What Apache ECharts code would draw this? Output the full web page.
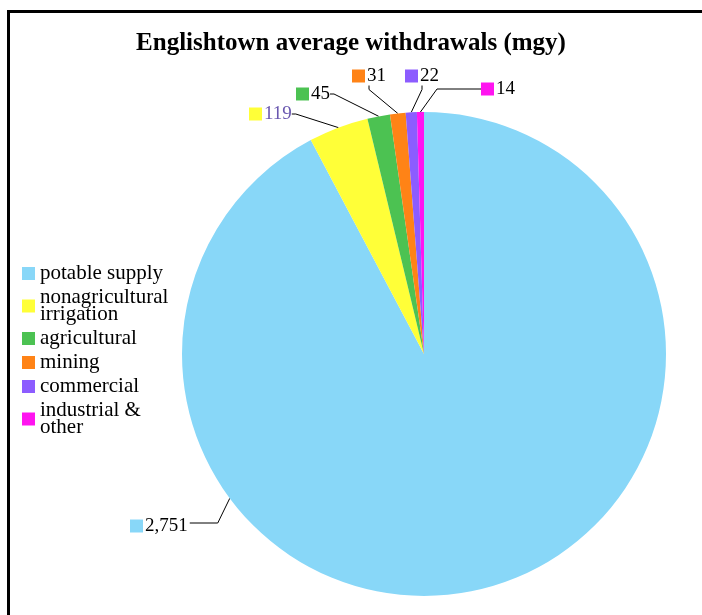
<!DOCTYPE html>
<html>
<head>
<meta charset="utf-8">
<script src="https://cdn.jsdelivr.net/npm/echarts@6/dist/echarts.min.js"></script>
<style>
  html, body { margin: 0; padding: 0; background: #fff; }
  #main { position: absolute; left: 0; top: 0; width: 702px; height: 615px; }
  #frame { position: absolute; left: 7px; top: 10px; width: 700px; height: 610px;
    border-top: 3px solid #000; border-left: 3px solid #000; pointer-events: none; }
</style>
</head>
<body>
<div id="main"></div>
<div id="frame"></div>
<script>
// withdrawals by use, million gallons per year
var categories = ['potable supply', 'nonagricultural irrigation', 'agricultural', 'mining', 'commercial', 'industrial & other']
var values = [2751, 119, 45, 31, 22, 14]
var legendNames = {
  'nonagricultural irrigation': 'nonagricultural\nirrigation',
  'industrial & other': 'industrial &\nother'
}

var colors = ['#88d7f8', '#ffff38', '#4cc252', '#ff8316', '#8c5cff', '#ff14f0']
// label placement (left of swatch, vertical middle) like the original sheet
var labelPos = [[130, 526], [249, 114], [296, 94], [352, 76], [405, 76], [481, 89]]
var guideLen = [28, 4, 4, 4, 4, 44]

var pieCenter = [424, 354]
var pieRadius = 242

var serif = '"Liberation Serif", "Times New Roman", serif'
var myChart = echarts.init(document.getElementById('main'))

var rich = {}
colors.forEach(function (c, i) {
  rich['sq' + i] = { width: 13, height: 13, backgroundColor: c }
  rich['v' + i] = { fontFamily: serif, fontSize: 19, color: i === 1 ? '#6a58b0' : '#000', padding: [0, 0, 0, 2] }
})

var data = values.map(function (v, i) {
  return {
    name: categories[i],
    value: v,
    itemStyle: { color: colors[i] },
    labelLine: { length2: guideLen[i] }
  }
})

var option = {
  animation: false,
  title: {
    text: 'Englishtown average withdrawals (mgy)',
    left: 'center',
    top: 26,
    textStyle: { fontFamily: serif, fontWeight: 'bold', fontSize: 25, color: '#000' }
  },
  legend: {
    orient: 'vertical',
    left: 17,
    top: 258,
    icon: 'rect',
    itemWidth: 13,
    itemHeight: 13,
    itemGap: 3,
    data: categories,
    formatter: function (name) {
      return legendNames[name] || name
    },
    textStyle: { fontFamily: serif, fontSize: 21, lineHeight: 17, color: '#000' }
  },
  series: [{
    type: 'pie',
    center: pieCenter,
    radius: pieRadius,
    startAngle: 90,
    clockwise: true,
    avoidLabelOverlap: false,
    emphasis: { disabled: true },
    data: data,
    label: {
      show: true,
      position: 'outside',
      formatter: function (p) {
        return '{sq' + p.dataIndex + '|}{v' + p.dataIndex + '|' + p.value.toLocaleString('en-US') + '}'
      },
      rich: rich
    },
    labelLine: {
      show: true,
      length: 10,
      length2: 10,
      lineStyle: { color: '#000', width: 1 }
    },
    labelLayout: function (params) {
      var i = params.dataIndex
      var pos = labelPos[i]
      var out = { x: pos[0], y: pos[1], align: 'left', verticalAlign: 'middle' }
      if (i === 0) {
        // leader of the big slice: short flat run then up into the left edge
        var x2 = pos[0] + params.labelRect.width + 2
        var y2 = pos[1] - 3
        var x1 = x2 + guideLen[0]
        var x0 = x1 + 12
        var y0 = pieCenter[1] + Math.sqrt(pieRadius * pieRadius - Math.pow(x0 - pieCenter[0], 2))
        out.labelLinePoints = [[x0, y0], [x1, y2], [x2, y2]]
      }
      return out
    }
  }]
}
myChart.setOption(option)
</script>
</body>
</html>
